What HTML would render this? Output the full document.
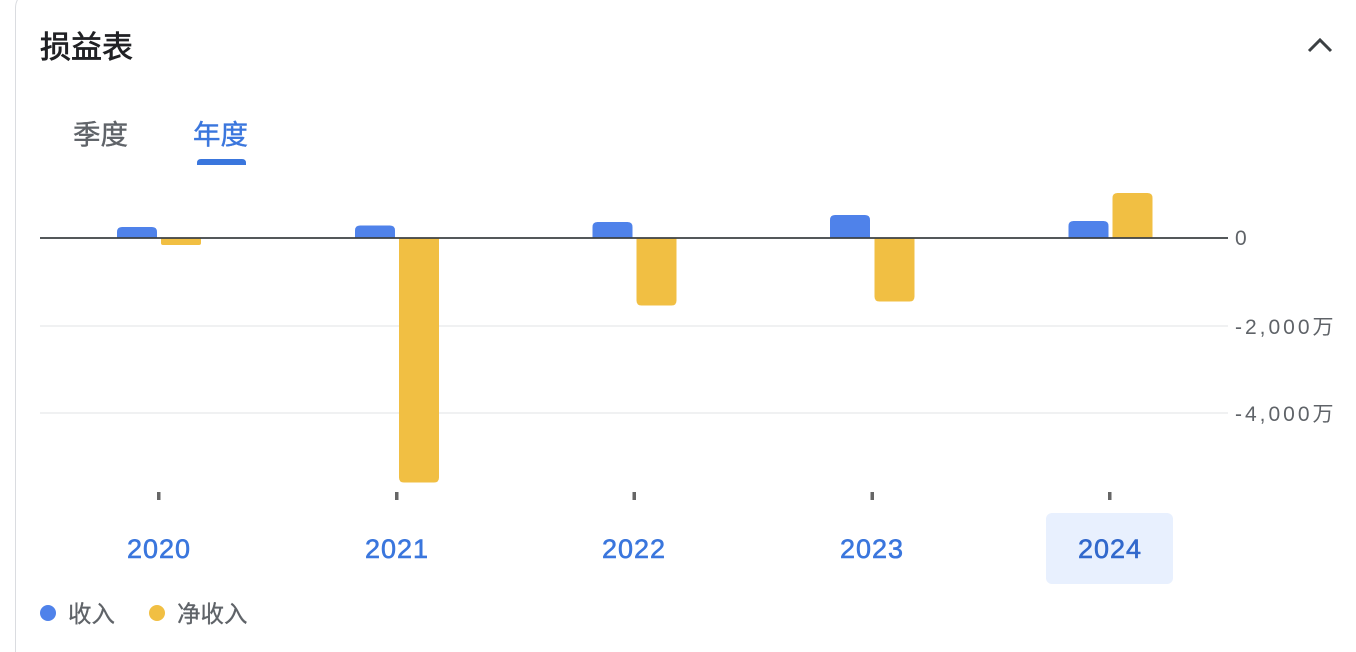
<!DOCTYPE html>
<html>
<head>
<meta charset="utf-8">
<style>
  html,body{margin:0;padding:0;background:#fff;width:1356px;height:652px;overflow:hidden;}
  body{position:relative;font-family:"Liberation Sans","Noto Sans CJK SC",sans-serif;}
  .card{position:absolute;left:15px;top:-10px;width:1400px;height:680px;border:1.5px solid #dadce0;border-radius:18px;box-sizing:border-box;}
  .hl{position:absolute;left:1046px;top:513px;width:127px;height:71px;background:#e8f0fe;border-radius:6px;}
  svg{position:absolute;left:0;top:0;}
</style>
</head>
<body>
<div class="card"></div>
<div class="hl"></div>
<svg width="1356" height="652" viewBox="0 0 1356 652">
  <!-- title -->
  <text x="40" y="58" font-family="'Liberation Sans','Noto Sans CJK SC',sans-serif" font-size="31" fill="#202124" stroke="#202124" stroke-width="0.7">损益表</text>
  <!-- chevron -->
  <polyline points="1309,51 1320,40 1331,51" fill="none" stroke="#3c4043" stroke-width="3"/>
  <!-- tabs -->
  <text x="73" y="144" font-family="'Liberation Sans','Noto Sans CJK SC',sans-serif" font-size="27.5" fill="#5f6368" stroke="#5f6368" stroke-width="0.4">季度</text>
  <text x="193" y="144" font-family="'Liberation Sans','Noto Sans CJK SC',sans-serif" font-size="27.5" fill="#3a76dd" stroke="#3a76dd" stroke-width="0.4">年度</text>
  <path d="M197,165 V163 Q197,159 201,159 H242 Q246,159 246,163 V165 Z" fill="#3a76dd"/>

  <!-- gridlines -->
  <line x1="40" y1="326" x2="1228" y2="326" stroke="#f0f1f2" stroke-width="2"/>
  <line x1="40" y1="413" x2="1228" y2="413" stroke="#f0f1f2" stroke-width="2"/>

  <!-- bars: blue (positive, rounded top) -->
  <g fill="#4f82ea">
    <path d="M117,238 V232 Q117,227 122,227 H152 Q157,227 157,232 V238 Z"/>
    <path d="M355,238 V230.5 Q355,225.5 360,225.5 H390 Q395,225.5 395,230.5 V238 Z"/>
    <path d="M592.5,238 V227 Q592.5,222 597.5,222 H627.5 Q632.5,222 632.5,227 V238 Z"/>
    <path d="M830,238 V220 Q830,215 835,215 H865 Q870,215 870,220 V238 Z"/>
    <path d="M1068.5,238 V226 Q1068.5,221 1073.5,221 H1103.5 Q1108.5,221 1108.5,226 V238 Z"/>
  </g>
  <!-- bars: yellow -->
  <g fill="#f1bf43">
    <path d="M161,238 V243 Q161,245 163,245 H199 Q201,245 201,243 V238 Z"/>
    <path d="M399,238 V477.5 Q399,482.5 404,482.5 H434 Q439,482.5 439,477.5 V238 Z"/>
    <path d="M636.5,238 V300.5 Q636.5,305.5 641.5,305.5 H671.5 Q676.5,305.5 676.5,300.5 V238 Z"/>
    <path d="M874.5,238 V296.5 Q874.5,301.5 879.5,301.5 H909.5 Q914.5,301.5 914.5,296.5 V238 Z"/>
    <path d="M1112.5,238 V198 Q1112.5,193 1117.5,193 H1147.5 Q1152.5,193 1152.5,198 V238 Z"/>
  </g>

  <!-- zero line -->
  <line x1="40" y1="238" x2="1228" y2="238" stroke="#3c4043" stroke-width="1.8"/>

  <!-- y labels -->
  <g font-family="'Liberation Sans','Noto Sans CJK SC',sans-serif" font-size="21" fill="#5f6368" letter-spacing="3">
    <text x="1235" y="245">0</text>
    <text x="1235" y="334">-2,000万</text>
    <text x="1235" y="421">-4,000万</text>
  </g>

  <!-- x ticks -->
  <g fill="#666">
    <rect x="157" y="492" width="3.5" height="8"/>
    <rect x="395" y="492" width="3.5" height="8"/>
    <rect x="632.5" y="492" width="3.5" height="8"/>
    <rect x="870.5" y="492" width="3.5" height="8"/>
    <rect x="1108" y="492" width="3.5" height="8"/>
  </g>

  <!-- x labels -->
  <g font-family="'Liberation Sans',sans-serif" font-size="27" fill="#3a76dd" stroke="#3a76dd" stroke-width="0.6" text-anchor="middle" letter-spacing="1">
    <text x="159" y="558">2020</text>
    <text x="397" y="558">2021</text>
    <text x="634" y="558">2022</text>
    <text x="872" y="558">2023</text>
    <text x="1110" y="558" fill="#3168cc" stroke="#3168cc">2024</text>
  </g>

  <!-- legend -->
  <circle cx="48" cy="613" r="8" fill="#4f82ea"/>
  <text x="68" y="622" font-family="'Liberation Sans','Noto Sans CJK SC',sans-serif" font-size="23.5" fill="#5f6368" stroke="#5f6368" stroke-width="0.3">收入</text>
  <circle cx="157" cy="613" r="8" fill="#f1bf43"/>
  <text x="177" y="622" font-family="'Liberation Sans','Noto Sans CJK SC',sans-serif" font-size="23.5" fill="#5f6368" stroke="#5f6368" stroke-width="0.3">净收入</text>
</svg>
</body>
</html>
